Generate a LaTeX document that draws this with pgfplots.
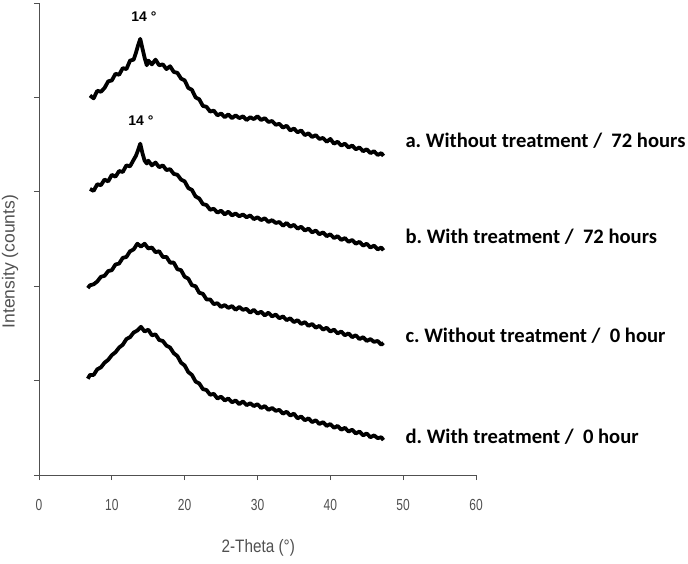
\documentclass[border=0pt]{standalone}
\usepackage{graphicx}
\usepackage{fontspec}
\setmainfont{Liberation Sans}
\newfontfamily\calib{Carlito}
\usepackage{pgfplots}
\pgfplotsset{compat=1.18}
\usepackage{pgfplotstable}
\definecolor{axgray}{HTML}{505050}
\frenchspacing

\pgfplotstableread{
x y
7.0 4.02
7.5 3.99
8.0 4.07
8.5 4.06
9.0 4.10
9.5 4.17
10.0 4.18
10.5 4.25
11.0 4.24
11.5 4.31
12.0 4.30
12.5 4.39
13.0 4.40
13.3 4.47
13.6 4.55
13.9 4.62
14.2 4.52
14.5 4.42
14.8 4.34
15.0 4.39
15.5 4.35
16.0 4.40
16.5 4.34
17.0 4.35
17.5 4.30
18.0 4.33
18.5 4.27
19.0 4.26
19.5 4.20
20.0 4.18
20.5 4.10
21.0 4.08
21.5 4.00
22.0 3.98
22.5 3.91
23.0 3.90
23.5 3.85
24.0 3.86
24.5 3.81
25.0 3.83
25.5 3.79
26.0 3.82
26.5 3.78
27.0 3.81
27.5 3.78
28.0 3.80
28.5 3.76
29.0 3.79
29.5 3.77
30.0 3.80
30.5 3.76
31.0 3.78
31.5 3.74
32.0 3.75
32.5 3.71
33.0 3.72
33.5 3.68
34.0 3.70
34.5 3.65
35.0 3.67
35.5 3.63
36.0 3.65
36.5 3.60
37.0 3.62
37.5 3.58
38.0 3.60
38.5 3.56
39.0 3.57
39.5 3.53
40.0 3.56
40.5 3.51
41.0 3.53
41.5 3.49
42.0 3.51
42.5 3.47
43.0 3.49
43.5 3.45
44.0 3.47
44.5 3.43
45.0 3.45
45.5 3.41
46.0 3.43
46.5 3.39
47.0 3.41
47.3 3.38
}\curveA

\pgfplotstableread{
x y
7.0 3.03
7.5 3.01
8.0 3.08
8.5 3.07
9.0 3.13
9.5 3.11
10.0 3.18
10.5 3.16
11.0 3.22
11.5 3.21
12.0 3.28
12.5 3.27
13.0 3.34
13.3 3.38
13.6 3.44
13.9 3.51
14.2 3.41
14.5 3.33
14.8 3.30
15.0 3.33
15.5 3.28
16.0 3.31
16.5 3.26
17.0 3.28
17.5 3.23
18.0 3.24
18.5 3.19
19.0 3.18
19.5 3.13
20.0 3.11
20.5 3.04
21.0 3.02
21.5 2.95
22.0 2.93
22.5 2.87
23.0 2.86
23.5 2.81
24.0 2.82
24.5 2.78
25.0 2.80
25.5 2.76
26.0 2.79
26.5 2.75
27.0 2.77
27.5 2.74
28.0 2.76
28.5 2.73
29.0 2.75
29.5 2.71
30.0 2.73
30.5 2.70
31.0 2.72
31.5 2.68
32.0 2.70
32.5 2.67
33.0 2.68
33.5 2.64
34.0 2.67
34.5 2.63
35.0 2.65
35.5 2.61
36.0 2.63
36.5 2.59
37.0 2.61
37.5 2.57
38.0 2.59
38.5 2.55
39.0 2.57
39.5 2.53
40.0 2.55
40.5 2.51
41.0 2.53
41.5 2.49
42.0 2.51
42.5 2.47
43.0 2.49
43.5 2.45
44.0 2.47
44.5 2.43
45.0 2.45
45.5 2.41
46.0 2.43
46.5 2.39
47.0 2.41
47.3 2.38
}\curveB

\pgfplotstableread{
x y
6.7 1.98
7.0 2.01
7.5 2.02
8.0 2.05
8.5 2.10
9.0 2.11
9.5 2.16
10.0 2.17
10.5 2.23
11.0 2.24
11.5 2.30
12.0 2.31
12.5 2.37
13.0 2.39
13.5 2.45
14.0 2.42
14.5 2.45
15.0 2.40
15.5 2.41
16.0 2.36
16.5 2.37
17.0 2.31
17.5 2.31
18.0 2.25
18.5 2.25
19.0 2.18
19.5 2.17
20.0 2.10
20.5 2.08
21.0 2.01
21.5 2.00
22.0 1.93
22.5 1.92
23.0 1.86
23.5 1.86
24.0 1.81
24.5 1.82
25.0 1.78
25.5 1.80
26.0 1.77
26.5 1.79
27.0 1.75
27.5 1.78
28.0 1.75
28.5 1.76
29.0 1.72
29.5 1.75
30.0 1.71
30.5 1.73
31.0 1.69
31.5 1.72
32.0 1.68
32.5 1.70
33.0 1.66
33.5 1.68
34.0 1.64
34.5 1.66
35.0 1.62
35.5 1.64
36.0 1.60
36.5 1.62
37.0 1.58
37.5 1.60
38.0 1.56
38.5 1.58
39.0 1.54
39.5 1.56
40.0 1.52
40.5 1.54
41.0 1.50
41.5 1.52
42.0 1.48
42.5 1.50
43.0 1.46
43.5 1.48
44.0 1.44
44.5 1.46
45.0 1.42
45.5 1.44
46.0 1.41
46.5 1.42
47.0 1.38
47.3 1.40
}\curveC

\pgfplotstableread{
x y
6.7 1.02
7.0 1.06
7.5 1.06
8.0 1.12
8.5 1.14
9.0 1.19
9.5 1.22
10.0 1.27
10.5 1.30
11.0 1.35
11.5 1.38
12.0 1.44
12.5 1.46
13.0 1.51
13.5 1.53
14.0 1.57
14.5 1.52
15.0 1.54
15.5 1.48
16.0 1.49
16.5 1.43
17.0 1.42
17.5 1.37
18.0 1.35
18.5 1.29
19.0 1.26
19.5 1.19
20.0 1.16
20.5 1.09
21.0 1.06
21.5 0.99
22.0 0.97
22.5 0.91
23.0 0.90
23.5 0.85
24.0 0.86
24.5 0.81
25.0 0.83
25.5 0.79
26.0 0.81
26.5 0.77
27.0 0.79
27.5 0.75
28.0 0.78
28.5 0.74
29.0 0.76
29.5 0.73
30.0 0.75
30.5 0.71
31.0 0.73
31.5 0.69
32.0 0.71
32.5 0.68
33.0 0.69
33.5 0.65
34.0 0.67
34.5 0.63
35.0 0.65
35.5 0.60
36.0 0.62
36.5 0.58
37.0 0.60
37.5 0.56
38.0 0.58
38.5 0.54
39.0 0.56
39.5 0.52
40.0 0.54
40.5 0.50
41.0 0.52
41.5 0.48
42.0 0.50
42.5 0.46
43.0 0.48
43.5 0.44
44.0 0.46
44.5 0.42
45.0 0.44
45.5 0.40
46.0 0.42
46.5 0.39
47.0 0.40
47.3 0.37
}\curveD

\begin{document}
\begin{tikzpicture}
\path[use as bounding box] (-39bp,-89bp) rectangle (649bp,475bp);
\begin{axis}[
  scale only axis,
  width=437bp, height=472bp,
  xmin=0, xmax=60, ymin=0, ymax=5,
  axis x line=bottom, axis y line=left,
  axis line style={-, draw=axgray, line width=1bp},
  xtick={0,10,20,30,40,50,60},
  ytick={0,1,2,3,4,5},
  yticklabels={},
  tick align=outside,
  major tick length=5bp,
  tick style={draw=axgray, line width=1bp},
  /pgf/number format/assume math mode=true,
  xticklabel={\scalebox{0.75}[1]{\pgfmathprintnumber{\tick}}},
  xticklabel style={font=\fontsize{16bp}{18bp}\selectfont, text=axgray, anchor=center, yshift=-25bp},
  clip=false,
]
\addplot[black, line width=3.8bp, line join=round] table[x=x,y=y] {\curveA};
\addplot[black, line width=3.8bp, line join=round] table[x=x,y=y] {\curveB};
\addplot[black, line width=3.8bp, line join=round] table[x=x,y=y] {\curveC};
\addplot[black, line width=3.8bp, line join=round] table[x=x,y=y] {\curveD};

\node[font=\bfseries\fontsize{14bp}{15bp}\selectfont] at (axis cs:14.4,4.86) {14 °};
\node[font=\bfseries\fontsize{14bp}{15bp}\selectfont] at (axis cs:14.0,3.75) {14 °};

\node[anchor=west, inner sep=0pt, font=\calib\bfseries\fontsize{20.6bp}{22bp}\selectfont] at (axis cs:50.3,3.54) {a. Without treatment /\ \ 72 hours};
\node[anchor=west, inner sep=0pt, font=\calib\bfseries\fontsize{20.6bp}{22bp}\selectfont] at (axis cs:50.3,2.52) {b. With treatment /\ \ 72 hours};
\node[anchor=west, inner sep=0pt, font=\calib\bfseries\fontsize{20.6bp}{22bp}\selectfont] at (axis cs:50.3,1.48) {c. Without treatment /\ \ 0 hour};
\node[anchor=west, inner sep=0pt, font=\calib\bfseries\fontsize{20.6bp}{22bp}\selectfont] at (axis cs:50.3,0.41) {d. With treatment /\ \ 0 hour};

\node[rotate=90, text=axgray, font=\fontsize{17.5bp}{19bp}\selectfont] at ([xshift=-29bp]axis cs:0,2.26) {Intensity (counts)};
\node[text=axgray, font=\fontsize{18bp}{20bp}\selectfont] at ([yshift=-73bp]axis cs:30.1,0) {\scalebox{0.85}[1]{2-Theta (°)}};
\end{axis}
\end{tikzpicture}
\end{document}
